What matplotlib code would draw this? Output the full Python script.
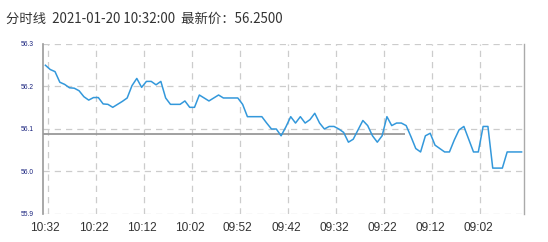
import matplotlib
matplotlib.use("Agg")
import matplotlib.pyplot as plt
import numpy as np

title_text = "分时线  2021-01-20 10:32:00  最新价：56.2500"

# minute labels shown on the x axis (every 10th category, newest first)
tick_labels = ["10:32", "10:22", "10:12", "10:02", "09:52",
               "09:42", "09:32", "09:22", "09:12", "09:02"]
tick_step = 10

prices = [
    56.250, 56.240, 56.235, 56.210, 56.205, 56.197, 56.196, 56.190, 56.176, 56.168,
    56.174, 56.174, 56.159, 56.158, 56.151, 56.158, 56.165, 56.173, 56.202, 56.219,
    56.198, 56.212, 56.212, 56.204, 56.212, 56.173, 56.158, 56.158, 56.158, 56.166,
    56.151, 56.151, 56.180, 56.173, 56.166, 56.173, 56.180, 56.173, 56.173, 56.173,
    56.173, 56.158, 56.129, 56.129, 56.129, 56.129, 56.114, 56.100, 56.100, 56.084,
    56.105, 56.129, 56.114, 56.129, 56.114, 56.122, 56.137, 56.114, 56.100, 56.106,
    56.106, 56.100, 56.092, 56.069, 56.076, 56.098, 56.120, 56.108, 56.084, 56.069,
    56.084, 56.129, 56.108, 56.114, 56.114, 56.108, 56.082, 56.054, 56.046, 56.084,
    56.090, 56.062, 56.054, 56.046, 56.046, 56.074, 56.098, 56.106, 56.076, 56.046,
    56.046, 56.106, 56.106, 56.008, 56.008, 56.008, 56.046, 56.046, 56.046, 56.046,
]

ref_price = 56.089      # grey reference line
ref_last_index = 74.8   # where the grey reference line stops

y_ticks = [55.9, 56.0, 56.1, 56.2, 56.3]

W, H = 548, 242
fig = plt.figure(figsize=(W / 100, H / 100), dpi=100)
ax = fig.add_axes([43 / W, (H - 214) / H, (524 - 43) / W, (214 - 44) / H])

x = np.arange(len(prices))
ax.plot(x, prices, color="#3398DB", lw=1.1, zorder=3)
ax.hlines(ref_price, -0.5, ref_last_index, color="#999999", lw=1.3, zorder=2)

ax.set_xlim(-0.5, len(prices) - 0.5)
ax.set_ylim(y_ticks[0], y_ticks[-1])

tick_pos = np.arange(len(tick_labels)) * tick_step
ax.set_xticks(tick_pos)
ax.set_xticklabels(tick_labels, fontsize=8.6, color="#333333", family="Liberation Sans")
ax.set_xticks(tick_pos + 0.45, minor=True)
ax.set_yticks(y_ticks)
ax.set_yticklabels([f"{v:.1f}" for v in y_ticks], fontsize=4.8, color="#1a237e",
                   family="Liberation Sans")
ax.tick_params(axis="x", which="both", length=0, pad=6)
ax.tick_params(axis="y", length=0, pad=7)

ax.grid(False)
for v in y_ticks:
    ax.axhline(v, color="#cccccc", lw=0.9, ls=(0, (5, 4)), zorder=1)
for p in tick_pos + 0.45:
    ax.axvline(p, color="#cccccc", lw=0.9, ls=(0, (5, 4)), zorder=1)

for s in ["top", "bottom"]:
    ax.spines[s].set_visible(False)
ax.spines["left"].set_color("#999999")
ax.spines["left"].set_linewidth(1.2)
ax.spines["right"].set_color("#aaaaaa")
ax.spines["right"].set_linewidth(1.0)

fig.text(6 / W, 1 - 19 / H, title_text, fontsize=9.6, color="#333333",
         family=["Noto Sans CJK SC", "DejaVu Sans"], va="center", ha="left")

fig.savefig("out.png", dpi=100)
